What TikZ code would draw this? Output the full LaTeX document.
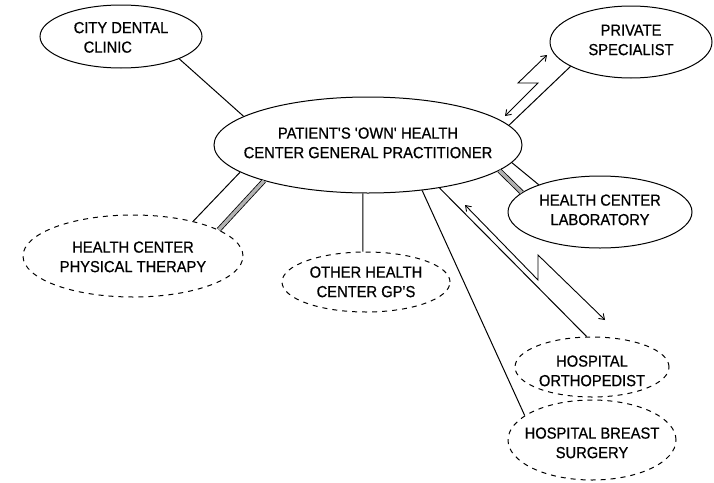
\documentclass[tikz,border=0pt]{standalone}
\usepackage{fontspec}
\setmainfont{Liberation Sans}[FakeStretch=0.92,FakeBold=0.6]
\usetikzlibrary{shapes.geometric,arrows.meta}
\newcommand{\lbl}[4]{\makebox[0pt]{\raisebox{\dimexpr-#1pt-3.8pt\relax}[0pt][0pt]{\begin{tabular}{@{}#2@{}}#3\\#4\end{tabular}}}}
\begin{document}
\begin{tikzpicture}[x=1pt,y=-1pt,
  bub/.style={ellipse, draw, line width=1pt, inner sep=0pt, font=\fontsize{16}{19.5}\selectfont},
  dbub/.style={bub, dash pattern=on 5pt off 5pt},
  ln/.style={line width=1pt},
  band/.style={double=gray!60, double distance=3.4pt, line width=0.8pt},
  bolt/.style={line width=0.9pt, {Straight Barb[length=5pt,width=7pt]}-{Straight Barb[length=5pt,width=7pt]}}]
\useasboundingbox (0,0) rectangle (714,482);
\node[bub, minimum width=162pt, minimum height=63pt] (D) at (121,36.5) {\lbl{3}{l}{CITY DENTAL}{\hspace{10pt}CLINIC}};
\node[bub, minimum width=162pt, minimum height=72pt] (P) at (631,42) {\lbl{0}{c}{PRIVATE}{SPECIALIST}};
\node[bub, minimum width=308pt, minimum height=96pt] (C) at (368,145) {\lbl{0}{c}{PATIENT\textquotesingle S \textquotesingle OWN\textquotesingle\ HEALTH}{CENTER GENERAL PRACTITIONER}};
\node[bub, minimum width=184pt, minimum height=72pt] (L) at (600,212) {\lbl{0}{c}{HEALTH CENTER}{LABORATORY}};
\node[dbub, minimum width=220pt, minimum height=82pt] (PT) at (133,256) {\lbl{3}{c}{HEALTH CENTER}{PHYSICAL THERAPY}};
\node[dbub, minimum width=168pt, minimum height=60pt] (G) at (366,282) {\lbl{2}{c}{OTHER HEALTH}{CENTER GP\textquotesingle S}};
\node[dbub, minimum width=154pt, minimum height=60pt] (O) at (592,367) {\lbl{6}{c}{HOSPITAL}{ORTHOPEDIST}};
\node[dbub, minimum width=168pt, minimum height=80pt] (B) at (592,440) {\lbl{5}{c}{HOSPITAL BREAST}{SURGERY}};
\draw[ln] (C.167.8) -- (D.-21.7);
\draw[ln] (C.192.5) -- (PT.30.8);
\draw[band] (C.199.8) -- (PT.17.6);
\draw[ln] (C.-96) -- (G.96);
\draw[ln] (C.-40.5) -- (B.160.5);
\draw[ln] (C.-31.3) -- (O.100.5);
\draw[band] (C.-11.8) -- (L.166.3);
\draw[ln] (C.-7.7) -- (L.156);
\draw[ln] (C.8.1) -- (P.202.3);
\coordinate (pa) at (505,116);
\coordinate (pz1) at (538,83);
\coordinate (pz2) at (518,83);
\coordinate (pb) at (547,55);
\draw[bolt] (pa) -- (pz1) -- (pz2) -- (pb);
\coordinate (oa) at (465,205);
\coordinate (oz1) at (538,280);
\coordinate (oz2) at (538,255);
\coordinate (ob) at (605,320);
\draw[bolt] (oa) -- (oz1) -- (oz2) -- (ob);
\end{tikzpicture}
\end{document}
